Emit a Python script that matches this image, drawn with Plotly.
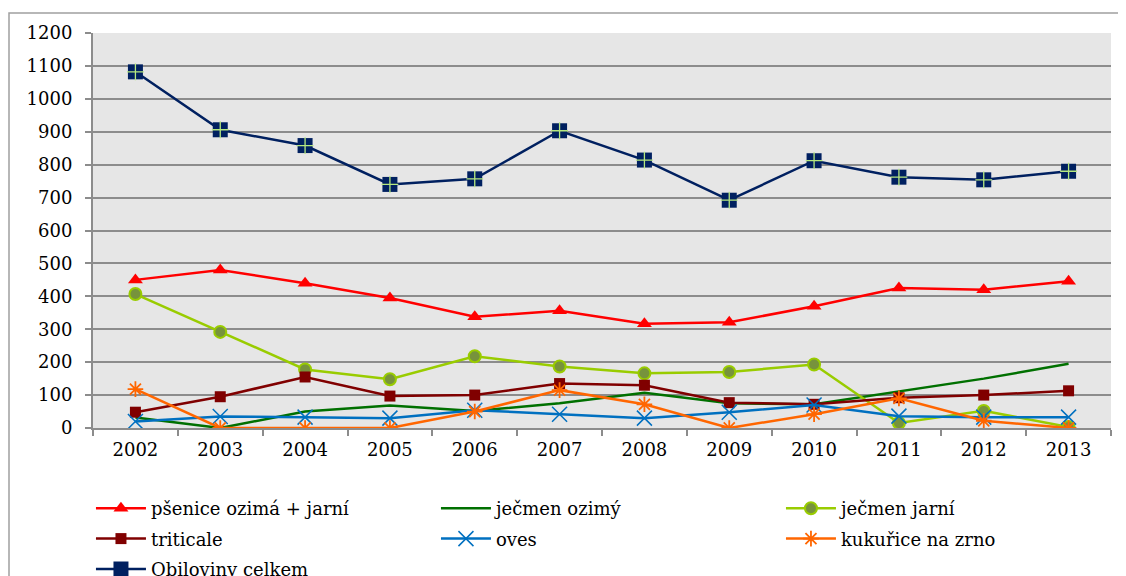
import plotly.graph_objects as go

years = ["2002", "2003", "2004", "2005", "2006", "2007", "2008", "2009", "2010", "2011", "2012", "2013"]

psenice = [450, 480, 440, 395, 338, 356, 317, 321, 370, 425, 420, 446]
jecmen_ozimy = [32, 0, 50, 68, 52, 75, 107, 75, 72, 110, 150, 195]
jecmen_jarni = [407, 292, 178, 148, 218, 187, 166, 170, 193, 15, 52, 3]
triticale = [48, 95, 155, 97, 100, 135, 130, 77, 72, 92, 100, 113]
oves = [20, 35, 33, 30, 54, 42, 30, 48, 70, 36, 33, 33]
kukurice = [118, 0, 0, 0, 50, 115, 72, 0, 42, 90, 22, 0]
obiloviny = [1082, 906, 858, 740, 757, 903, 814, 692, 812, 762, 754, 780]

names = ["pšenice ozimá + jarní", "ječmen ozimý", "ječmen jarní", "triticale", "oves",
         "kukuřice na zrno", "Obiloviny celkem"]

FONT = "DejaVu Serif"
GRID = "#8c8c8c"

fig = go.Figure()
fig.add_trace(go.Scatter(x=years, y=psenice, name=names[0], mode="lines+markers",
                         legendgroup="g0",
                         line=dict(color="#ff0000", width=2.5),
                         marker=dict(symbol="triangle-up", size=13, color="#ff0000")))
fig.add_trace(go.Scatter(x=years, y=jecmen_ozimy, name=names[1], mode="lines",
                         legendgroup="g1",
                         line=dict(color="#007000", width=2.5)))
fig.add_trace(go.Scatter(x=years, y=jecmen_jarni, name=names[2], mode="lines+markers",
                         legendgroup="g2",
                         line=dict(color="#99cc00", width=2.5),
                         marker=dict(symbol="circle", size=12, color="#77933c",
                                     line=dict(color="#99cc00", width=2))))
fig.add_trace(go.Scatter(x=years, y=triticale, name=names[3], mode="lines+markers",
                         legendgroup="g3",
                         line=dict(color="#800000", width=2.5),
                         marker=dict(symbol="square", size=11, color="#800000")))
fig.add_trace(go.Scatter(x=years, y=oves, name=names[4], mode="lines+markers",
                         legendgroup="g4",
                         line=dict(color="#0070c0", width=2.5),
                         marker=dict(symbol="x-thin-open", size=15,
                                     line=dict(color="#4bacc6", width=1.5))))
fig.add_trace(go.Scatter(x=years, y=kukurice, name=names[5], mode="lines+markers",
                         legendgroup="g5",
                         line=dict(color="#ff6600", width=2.5),
                         marker=dict(symbol="asterisk-open", size=13,
                                     line=dict(color="#ff6600", width=1.8))))
fig.add_trace(go.Scatter(x=years, y=obiloviny, name=names[6], mode="lines+markers",
                         legendgroup="g6",
                         line=dict(color="#002060", width=2.5),
                         marker=dict(symbol="square", size=15, color="#002060")))
fig.add_trace(go.Scatter(x=years, y=obiloviny, name=names[6], mode="markers",
                         legendgroup="g6", showlegend=False, hoverinfo="skip",
                         marker=dict(symbol="cross-thin-open", size=12,
                                     line=dict(color="#8ea9db", width=1.3))))

# the page body has an 8 px margin, so the figure is 8 px smaller
fig.update_layout(
    width=1118, height=568,
    margin=dict(l=85, r=15, t=25, b=148, autoexpand=False),
    paper_bgcolor="white",
    plot_bgcolor="#e6e6e6",
    font=dict(family=FONT, size=17, color="#000000"),
    showlegend=True,
    legend=dict(orientation="h", xref="paper", yref="paper",
                x=-0.002, xanchor="left", y=(428 - 490) / 395, yanchor="top",
                entrywidth=280, entrywidthmode="pixels", tracegroupgap=4,
                font=dict(family=FONT, size=18), bgcolor="rgba(0,0,0,0)",
                itemwidth=50),
    shapes=[dict(type="rect", xref="paper", yref="paper",
                 x0=(9 - 93) / 1018, x1=(1140 - 93) / 1018,
                 y0=(428 - 13) / 395, y1=(428 - 600) / 395,
                 line=dict(color="#a0a0a0", width=1.5), layer="below")],
)

fig.update_xaxes(type="category", range=[-0.5, 11.5], tickson="boundaries",
                 ticks="outside", ticklen=6, tickcolor=GRID, tickwidth=1.5,
                 showline=True, linecolor=GRID, linewidth=2,
                 showgrid=False, tickfont=dict(family=FONT, size=18),
                 ticklabelstandoff=4)
fig.update_yaxes(range=[0, 1200], dtick=100, tick0=0,
                 ticks="outside", ticklen=6, tickcolor=GRID, tickwidth=1.5,
                 showline=True, linecolor=GRID, linewidth=2,
                 showgrid=True, gridcolor=GRID, gridwidth=2, zeroline=False,
                 tickfont=dict(family=FONT, size=18), ticklabelstandoff=9)

fig.write_html("out.html")
